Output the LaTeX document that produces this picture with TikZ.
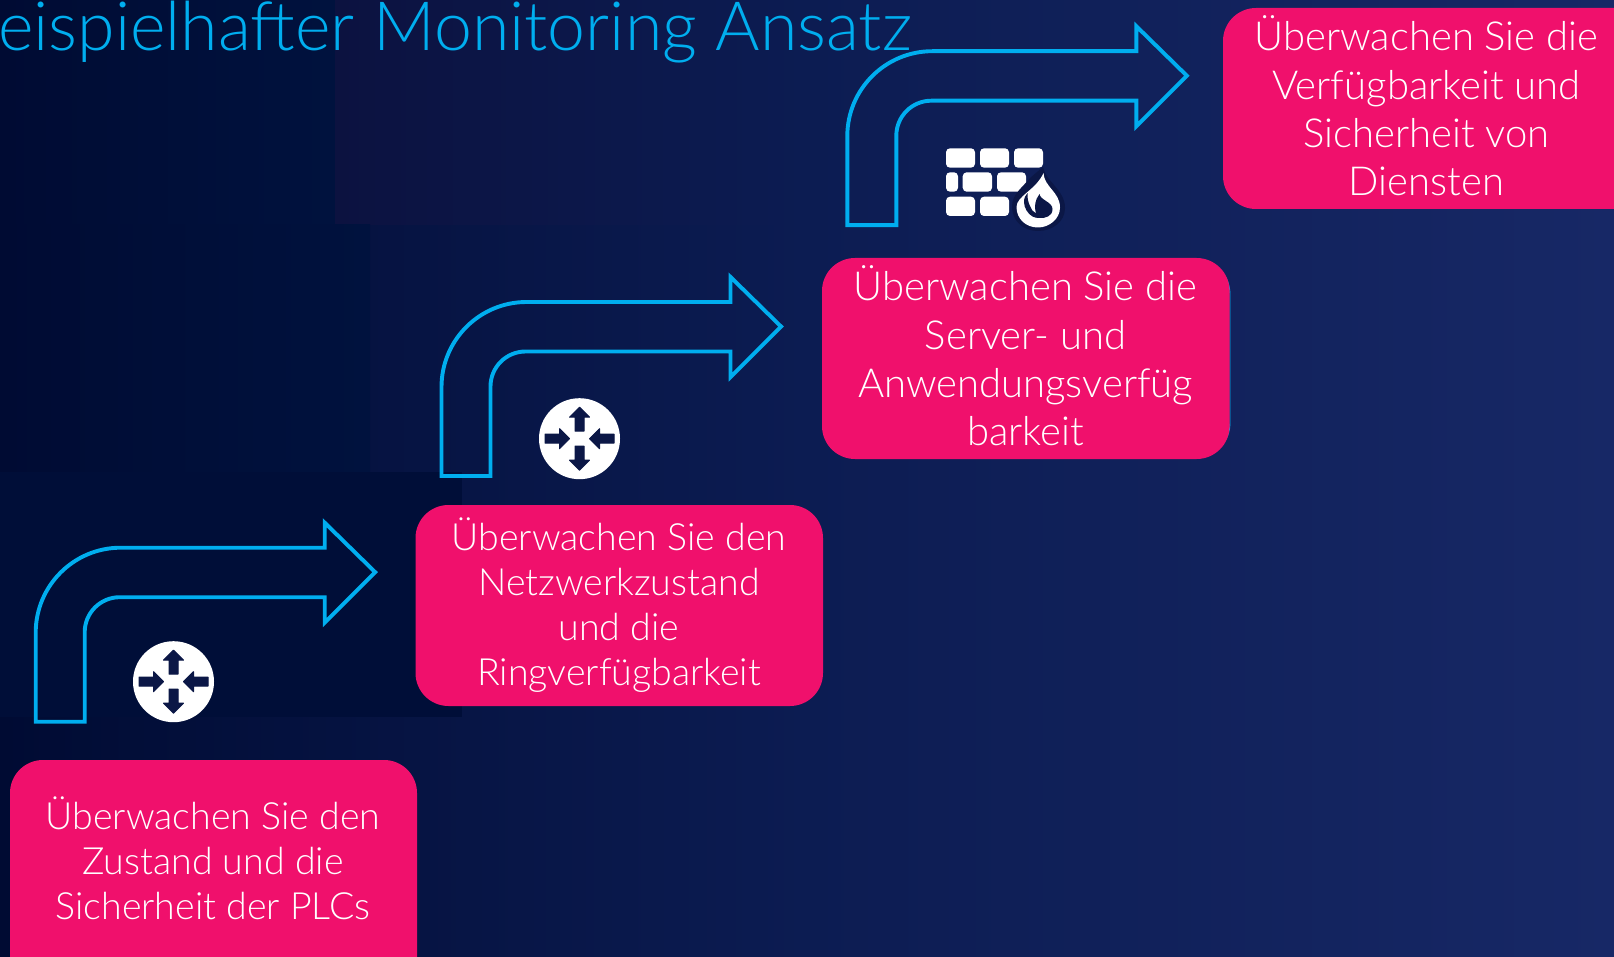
\documentclass[tikz,border=0pt]{standalone}
\usepackage{fontspec}
\setmainfont{Lato}[UprightFont={* Light}]
\definecolor{bgL}{HTML}{000B33}
\definecolor{bgM}{HTML}{0C1C52}
\definecolor{bgR}{HTML}{172866}
\definecolor{patchA}{HTML}{000E38}
\definecolor{patchC}{HTML}{00123E}
\definecolor{patchD}{HTML}{0C1240}
\definecolor{boxpink}{HTML}{F0106C}
\definecolor{cyanline}{HTML}{00AEEF}
\definecolor{icondark}{HTML}{0B1746}
\tikzset{
  x=1pt,y=-1pt,
  boxstyle/.style={fill=boxpink,rounded corners=33pt},
  boxtext/.style={text=white,align=center,anchor=center,inner sep=0pt},
  bent/.style={draw=cyanline,line width=3.9pt,miter limit=10},
  brick/.style={fill=white,rounded corners=4pt},
  whitefill/.style={fill=white},
  darkfill/.style={fill=icondark,draw=icondark,line width=1pt,line join=round},
  pics/bentarrow/.style={code={
    \draw[bent] (0,0) -- (0,-89) arc[start angle=180,end angle=90,x radius=85,y radius=-85]
      -- (289,-174) -- (289,-199) -- (339.5,-149.5) -- (289,-99) -- (289,-124.5)
      -- (84,-124.5) arc[start angle=90,end angle=180,x radius=35,y radius=-35] -- (49,0) -- cycle;
  }},
  pics/routericon/.style={code={
    \fill[whitefill] (0,0) circle[radius=40.5];
    \foreach \r in {0,180}{
      \fill[darkfill,rotate=\r] (-4.5,-7.5) -- (-4.5,-21.5) -- (-10,-21.5) -- (0,-31.5) -- (10,-21.5) -- (4.5,-21.5) -- (4.5,-7.5) -- cycle;
      \fill[darkfill,rotate=\r] (-34.5,-4.5) -- (-20,-4.5) -- (-20,-10) -- (-10,0) -- (-20,10) -- (-20,4.5) -- (-34.5,4.5) -- cycle;
    }
  }}
}
\begin{document}
\begin{tikzpicture}
\useasboundingbox (0,0) rectangle (1614,957);
\shade[left color=bgL,right color=bgR,middle color=bgM] (0,0) rectangle (1614,957);
\shade[left color=bgL,right color=patchC] (0,0) rectangle (335,225);
\shade[left color=patchD,right color=bgM] (335,0) rectangle (807,225);
\shade[left color=bgL,right color=patchC] (0,225) rectangle (370,472);
\fill[patchA] (0,472) rectangle (462,717);
\clip (0,0) rectangle (1614,957);

\node[boxtext,anchor=base east,font=\fontsize{68}{68}\selectfont,text=cyanline] (title) at (912,50.5) {Beispielhafter Monitoring Ansatz};

\pic (arrowA) at (35.7,721.7) {bentarrow};
\pic (arrowB) at (441.5,476) {bentarrow};
\pic (arrowC) at (847.3,225.2) {bentarrow};

\pic (routerA) at (173.5,681.7) {routericon};
\pic (routerB) at (579.5,438.7) {routericon};

% firewall
\foreach \xa/\xb/\ya/\yb in {946/975/148.3/167.7,980/1009/148.3/167.7,1014/1043/148.3/167.7,
  946/958/172.3/191.7,962.7/992/172.3/191.7,997/1026/172.3/191.7,
  946/975/196.7/216,980/1009/196.7/216}{
  \fill[brick] (\xa,\ya) rectangle (\xb,\yb);
}
\fill[icondark] (1043,167) .. controls (1046,182) and (1065,190) .. (1065,208)
  .. controls (1065,222) and (1052,231) .. (1038,231)
  .. controls (1024,231) and (1012,222) .. (1012,206)
  .. controls (1012,194) and (1024,186) .. (1030,178) -- cycle;
\fill[whitefill] (1043.5,173) .. controls (1044,187) and (1060,192) .. (1060,207.5)
  .. controls (1060,219) and (1049,227.5) .. (1038,227.5)
  .. controls (1026,227.5) and (1016.5,219) .. (1016.5,207)
  .. controls (1016.5,196) and (1036,190) .. (1043.5,173) -- cycle;
\fill[icondark] (1039.5,194) .. controls (1040,200) and (1052.5,202) .. (1052.5,209)
  .. controls (1052.5,216) and (1046,218.5) .. (1039,218)
  .. controls (1037,218) and (1034,217.5) .. (1032.5,216.5)
  .. controls (1028,214) and (1024,208) .. (1024,202)
  .. controls (1024,198) and (1025.5,195) .. (1027.5,193)
  .. controls (1027,199) and (1029,204) .. (1030,206)
  .. controls (1031,209) and (1033,212) .. (1036,213.5)
  .. controls (1034,206) and (1035,200) .. (1039.5,194) -- cycle;

\fill[boxstyle] (10,760) rectangle (417,990);
\fill[boxstyle] (415.5,505) rectangle (823,706);
\draw[cyanline,line width=0.9pt] (1225,276) .. controls (1228,281) and (1230,287) .. (1230,295) -- (1230,423) .. controls (1230,430) and (1228,436) .. (1225,441);
\fill[boxstyle] (822,258) rectangle (1229.6,459);
\fill[boxstyle] (1223,8) rectangle (1670,209);

\node[boxtext,font=\fontsize{37.5}{45}\selectfont] (boxA) at (213,858) {Überwachen Sie den\\Zustand und die\\Sicherheit der PLCs};
\node[boxtext,font=\fontsize{37.5}{45}\selectfont] (boxB) at (619,605.5) {Überwachen Sie den\\Netzwerkzustand\\und die\\Ringverfügbarkeit};
\node[boxtext,font=\fontsize{40}{48.4}\selectfont] (boxC) at (1025.5,356) {Überwachen Sie die\\Server- und\\Anwendungsverfüg\\barkeit};
\node[boxtext,font=\fontsize{40}{48.4}\selectfont] (boxD) at (1426.5,106) {Überwachen Sie die\\Verfügbarkeit und\\Sicherheit von\\Diensten};
\end{tikzpicture}
\end{document}
